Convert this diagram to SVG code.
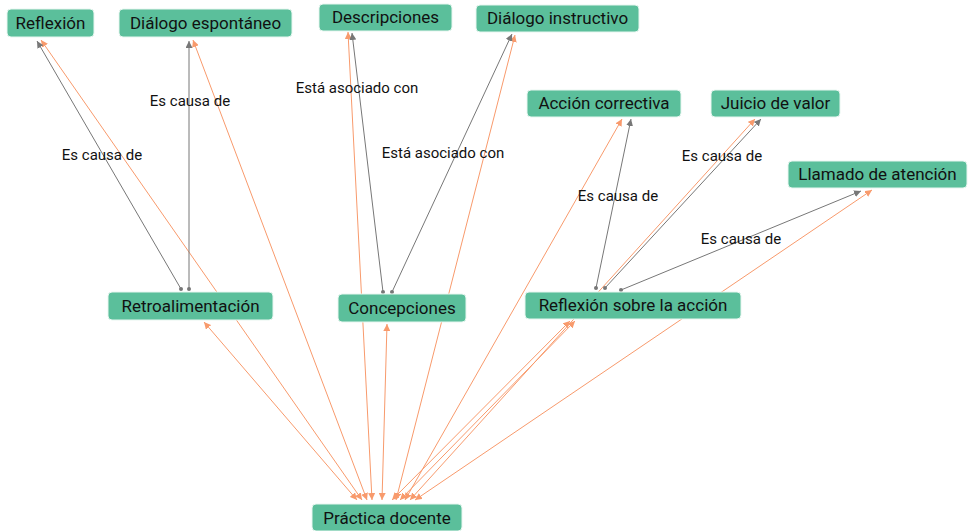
<svg xmlns="http://www.w3.org/2000/svg" width="980" height="531" viewBox="0 0 980 531">
<style>
.n rect{fill:#5bbf9b;stroke:#e8f6f0;stroke-width:1}
.n text{font-family:Roboto,"Liberation Sans",sans-serif;font-size:17px;fill:#111;text-anchor:middle}
.o{stroke:#f89a6c;stroke-width:1;fill:none;marker-end:url(#ao);marker-start:url(#ao)}
.g{stroke:#777;stroke-width:1;fill:none;marker-end:url(#ag);marker-start:url(#dg)}
.l{font-family:Roboto,"Liberation Sans",sans-serif;font-size:15px;fill:#111;text-anchor:middle}
</style>
<defs>
<marker id="ao" viewBox="0 0 10 10" refX="10" refY="5" markerWidth="7" markerHeight="7" orient="auto-start-reverse" markerUnits="userSpaceOnUse"><path d="M0,0L10,5L0,10z" fill="#f89a6c"/></marker>
<marker id="ag" viewBox="0 0 10 10" refX="10" refY="5" markerWidth="7" markerHeight="7" orient="auto" markerUnits="userSpaceOnUse"><path d="M0,0L10,5L0,10z" fill="#777"/></marker>
<marker id="dg" viewBox="0 0 10 10" refX="5" refY="5" markerWidth="4" markerHeight="4" markerUnits="userSpaceOnUse"><circle cx="5" cy="5" r="5" fill="#777"/></marker>
</defs>
<g id="connectors">
<path class="o" d="M362,500L41,40"/>
<path class="o" d="M367,500L193,40"/>
<path class="o" d="M372,500L348,32"/>
<path class="o" d="M396,500L515,35"/>
<path class="o" d="M405,500L622,119"/>
<path class="o" d="M410,500L755,119"/>
<path class="o" d="M415,500L872,190"/>
<path class="o" d="M357,500L204,322"/>
<path class="o" d="M382,500L387,324"/>
<path class="o" d="M400,500L575,321"/>
<path class="o" d="M392,500L570,321"/>
<path class="g" d="M181,289L37,41"/>
<path class="g" d="M189,289L189,41"/>
<path class="g" d="M383,292L352,33"/>
<path class="g" d="M392,292L512,34"/>
<path class="g" d="M596,288L631,119"/>
<path class="g" d="M605,288L761,119"/>
<path class="g" d="M621,290L861,191"/>
<text class="l" x="102" y="160">Es causa de</text>
<text class="l" x="190" y="106">Es causa de</text>
<text class="l" x="357" y="93">Está asociado con</text>
<text class="l" x="443" y="158">Está asociado con</text>
<text class="l" x="618" y="201">Es causa de</text>
<text class="l" x="722" y="161">Es causa de</text>
<text class="l" x="741" y="244">Es causa de</text>
</g>
<g id="n1" class="n"><rect x="7" y="9" width="87" height="28" rx="4"/><text x="50.5" y="29">Reflexión</text></g>
<g id="n2" class="n"><rect x="119" y="9" width="173" height="28" rx="4"/><text x="205.5" y="29">Diálogo espontáneo</text></g>
<g id="n3" class="n"><rect x="319" y="4" width="133" height="27" rx="4"/><text x="385.5" y="23">Descripciones</text></g>
<g id="n4" class="n"><rect x="476" y="5" width="163" height="27" rx="4"/><text x="557.5" y="24">Diálogo instructivo</text></g>
<g id="n5" class="n"><rect x="527" y="90" width="154" height="27" rx="4"/><text x="604" y="109">Acción correctiva</text></g>
<g id="n6" class="n"><rect x="711" y="90" width="129" height="27" rx="4"/><text x="775.5" y="109">Juicio de valor</text></g>
<g id="n7" class="n"><rect x="788" y="161" width="179" height="27" rx="4"/><text x="877.5" y="180">Llamado de atención</text></g>
<g id="n8" class="n"><rect x="108" y="292" width="165" height="28" rx="4"/><text x="190.5" y="312">Retroalimentación</text></g>
<g id="n9" class="n"><rect x="338" y="294" width="128" height="28" rx="4"/><text x="402" y="314">Concepciones</text></g>
<g id="n10" class="n"><rect x="525" y="292" width="216" height="27" rx="4"/><text x="633" y="311">Reflexión sobre la acción</text></g>
<g id="n11" class="n"><rect x="312" y="504" width="150" height="27" rx="4"/><text x="387" y="524">Práctica docente</text></g>
</svg>
